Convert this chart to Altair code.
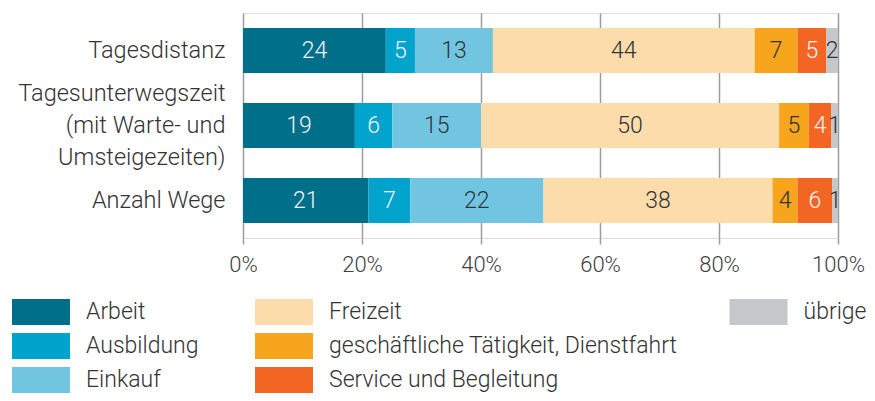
import altair as alt
import pandas as pd

# --- data ---
kategorien = [
    "Tagesdistanz",
    "Tagesunterwegszeit\n(mit Warte- und\nUmsteigezeiten)",
    "Anzahl Wege",
]
zwecke = [
    "Arbeit",
    "Ausbildung",
    "Einkauf",
    "Freizeit",
    "geschäftliche Tätigkeit, Dienstfahrt",
    "Service und Begleitung",
    "übrige",
]
farben = ["#00708a", "#00a3cc", "#72c5e0", "#fddcab", "#f7a51d", "#f26522", "#c5c7c9"]

# segment lengths (percent) as measured from the bars
tagesdistanz = [24.0, 4.9, 13.1, 44.0, 7.2, 4.8, 2.0]
unterwegszeit = [18.8, 6.3, 14.9, 50.1, 5.0, 3.8, 1.1]
anzahl_wege = [21.1, 7.0, 22.4, 38.5, 4.2, 5.8, 1.0]
# printed (rounded) labels
tagesdistanz_lbl = [24, 5, 13, 44, 7, 5, 2]
unterwegszeit_lbl = [19, 6, 15, 50, 5, 4, 1]
anzahl_wege_lbl = [21, 7, 22, 38, 4, 6, 1]

x_ticks = [0, 20, 40, 60, 80, 100]
helle_schrift = ["Arbeit", "Ausbildung", "Service und Begleitung"]

rows = []
for kat, werte, lbls in zip(kategorien,
                            [tagesdistanz, unterwegszeit, anzahl_wege],
                            [tagesdistanz_lbl, unterwegszeit_lbl, anzahl_wege_lbl]):
    for i, (z, w, l) in enumerate(zip(zwecke, werte, lbls)):
        rows.append({"Kategorie": kat, "Zweck": z, "idx": i, "Wert": w, "Label": l})
df = pd.DataFrame(rows)

leg_df = pd.DataFrame({
    "Zweck": zwecke,
    "spalte": [i // 3 for i in range(len(zwecke))],
    "zeile": [i % 3 for i in range(len(zwecke))],
})

FONT = "Roboto"
color_scale = alt.Scale(domain=zwecke, range=farben)

base = alt.Chart(df).transform_stack(
    stack="Wert", groupby=["Kategorie"], sort=[alt.SortField("idx", order="ascending")],
    as_=["x0", "x1"],
).transform_calculate(mid="(datum.x0 + datum.x1) / 2")

LINE_H = 32
y_enc = alt.Y(
    "Kategorie:N", sort=kategorien,
    scale=alt.Scale(paddingInner=0.4, paddingOuter=0.2),
    axis=alt.Axis(title=None, ticks=False, domain=False, labelFontSize=23.5,
                  labelColor="#333333", labelPadding=18, labelLineHeight=LINE_H,
                  labelOffset=-LINE_H,
                  labelFont=FONT, labelFontWeight=300, labelLimit=400,
                  labelExpr="length(split(datum.label, '\\n')) == 1 ? ['', datum.label] : split(datum.label, '\\n')"),
)
x_scale = alt.Scale(domain=[0, 100], nice=False, zero=True)

bars = base.mark_bar(strokeWidth=0).encode(
    y=y_enc,
    x=alt.X("x0:Q", scale=x_scale,
            axis=alt.Axis(values=x_ticks, labelExpr="datum.value + '%'", grid=True,
                          gridColor="#9c9c9c", gridWidth=1.5, tickColor="#9c9c9c",
                          tickWidth=1.5, tickSize=6, domain=False, labelFontSize=22,
                          labelColor="#404040", labelFont=FONT, labelFontWeight=300,
                          labelPadding=10, title=None, labelFlush=False)),
    x2="x1:Q",
    color=alt.Color("Zweck:N", scale=color_scale, legend=None),
)

labels = base.mark_text(font=FONT, fontSize=23, fontWeight=300, baseline="middle").encode(
    y=alt.Y("Kategorie:N", sort=kategorien),
    x=alt.X("mid:Q", scale=x_scale),
    text="Label:Q",
    color=alt.condition(
        "indexof(" + str(helle_schrift) + ", datum.Zweck) >= 0",
        alt.value("#f4f4f4"), alt.value("#2e3338"),
    ),
)

leg_x = alt.X("spalte:Q", axis=None,
              scale=alt.Scale(domain=[0, 1, 2], range=[-202, 41, 515.5], zero=False, nice=False))
leg_y = alt.Y("zeile:Q", axis=None,
              scale=alt.Scale(domain=[0, 2], range=[299, 367], zero=False, nice=False))

swatch = alt.Chart(leg_df).mark_rect(xOffset=-29, x2Offset=29, yOffset=-13, y2Offset=13).encode(
    x=leg_x, x2="spalte:Q", y=leg_y, y2="zeile:Q",
    color=alt.Color("Zweck:N", scale=color_scale, legend=None),
)
leg_text = alt.Chart(leg_df).mark_text(align="left", baseline="middle", dx=45, font=FONT,
                                       fontSize=23, fontWeight=300, color="#333333").encode(
    x=leg_x, y=leg_y, text="Zweck:N",
)

main = alt.layer(bars, labels)
legend = alt.layer(swatch, leg_text)

chart = alt.layer(main, legend).resolve_scale(
    x="independent", y="independent"
).properties(
    width=595, height=225,
    autosize=alt.AutoSizeParams(type="none"),
    padding={"left": 235, "top": 5, "right": 29, "bottom": 155},
).configure_view(
    fill="#e8eaed", stroke="#a9a9a9", strokeWidth=1.5
).configure(font=FONT)

chart.save("out.html", embed_options={"renderer": "svg", "actions": False})
